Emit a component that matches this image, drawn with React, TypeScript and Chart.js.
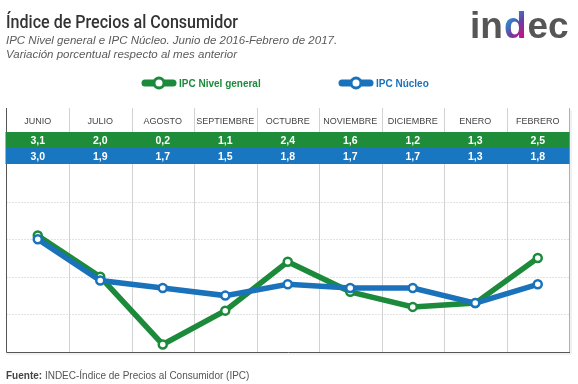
import React, { useEffect, useRef } from "react";
import { Chart, registerables } from "chart.js";

Chart.register(...registerables);

const months = ["JUNIO", "JULIO", "AGOSTO", "SEPTIEMBRE", "OCTUBRE", "NOVIEMBRE", "DICIEMBRE", "ENERO", "FEBRERO"];
const nivelGeneral = [3.1, 2.0, 0.2, 1.1, 2.4, 1.6, 1.2, 1.3, 2.5];
const nucleo = [3.0, 1.9, 1.7, 1.5, 1.8, 1.7, 1.7, 1.3, 1.8];
const gridValues = [1, 2, 3, 4];

const GREEN = "#1b8a3a";
const BLUE = "#1a72bb";
const GREEN_BAND = "#1e8c38";
const BLUE_BAND = "#1976c0";
const FONT = "'Liberation Sans', Arial, sans-serif";

const fmt = (v: number) => v.toFixed(1).replace(".", ",");

const decor = {
  id: "decor",
  beforeDraw(chart: any) {
    const ctx = chart.ctx;
    ctx.save();
    ctx.fillStyle = "#fff";
    ctx.fillRect(0, 0, chart.width, chart.height);
    ctx.restore();
  },
  beforeDatasetsDraw(chart: any) {
    const ctx = chart.ctx;
    const { left, right, bottom } = chart.chartArea;
    const xs = chart.scales.x;
    const ys = chart.scales.y;
    const colW = (right - left) / months.length;
    ctx.save();
    ctx.strokeStyle = "#d2d2d2";
    ctx.lineWidth = 1;
    for (let i = 1; i < months.length; i++) {
      const x = Math.round(xs.getPixelForValue(i) - colW / 2) + 0.5;
      ctx.beginPath();
      ctx.moveTo(x, 108);
      ctx.lineTo(x, bottom);
      ctx.stroke();
    }
    ctx.strokeStyle = "#c4c4c4";
    ctx.setLineDash([1, 2]);
    for (const v of gridValues) {
      const y = Math.round(ys.getPixelForValue(v)) + 0.5;
      ctx.beginPath();
      ctx.moveTo(left, y);
      ctx.lineTo(right, y);
      ctx.stroke();
    }
    ctx.setLineDash([]);
    ctx.strokeStyle = "#e4e4e4";
    ctx.beginPath();
    ctx.moveTo(left, bottom + 2);
    ctx.lineTo(right + 2, bottom + 2);
    ctx.lineTo(right + 2, 110);
    ctx.stroke();
    ctx.strokeStyle = "#b0b0b0";
    ctx.beginPath();
    ctx.moveTo(Math.round(right) + 0.5, 108);
    ctx.lineTo(Math.round(right) + 0.5, bottom);
    ctx.stroke();
    ctx.strokeStyle = "#555";
    ctx.beginPath();
    ctx.moveTo(Math.round(left) - 0.5, 108);
    ctx.lineTo(Math.round(left) - 0.5, bottom + 0.5);
    ctx.lineTo(right + 1, bottom + 0.5);
    ctx.stroke();
    ctx.restore();
  },
  afterDraw(chart: any) {
    const ctx = chart.ctx;
    const { left, right } = chart.chartArea;
    const xs = chart.scales.x;
    ctx.save();
    ctx.fillStyle = GREEN_BAND;
    ctx.fillRect(left - 1, 132, right - left + 1.5, 15);
    ctx.fillStyle = BLUE_BAND;
    ctx.fillRect(left - 1, 147, right - left + 1.5, 17);
    ctx.textAlign = "center";
    ctx.textBaseline = "alphabetic";
    months.forEach((m, i) => {
      const x = xs.getPixelForValue(i);
      ctx.fillStyle = "#444";
      ctx.font = `9px ${FONT}`;
      ctx.fillText(m, x, 123.5);
      ctx.fillStyle = "#fff";
      ctx.font = `bold 10.5px ${FONT}`;
      ctx.fillText(fmt(nivelGeneral[i]), x, 143.5);
      ctx.fillText(fmt(nucleo[i]), x, 160);
    });

    ctx.textAlign = "left";
    ctx.fillStyle = "#333";
    ctx.font = `500 18px Roboto, ${FONT}`;
    ctx.fillText("Índice de Precios al Consumidor", 6, 28, 232);
    ctx.fillStyle = "#5a5a5a";
    ctx.font = `italic 11.5px ${FONT}`;
    ctx.fillText("IPC Nivel general e IPC Núcleo. Junio de 2016-Febrero de 2017.", 6, 44);
    ctx.fillText("Variación porcentual respecto al mes anterior", 6, 58);

    const legendItem = (x0: number, x1: number, color: string, label: string) => {
      ctx.strokeStyle = color;
      ctx.lineCap = "round";
      ctx.lineWidth = 7;
      ctx.beginPath();
      ctx.moveTo(x0, 83);
      ctx.lineTo(x1, 83);
      ctx.stroke();
      ctx.lineCap = "butt";
      ctx.fillStyle = "#fff";
      ctx.lineWidth = 3;
      ctx.beginPath();
      ctx.arc((x0 + x1) / 2, 83, 5, 0, Math.PI * 2);
      ctx.fill();
      ctx.stroke();
      ctx.fillStyle = color;
      ctx.font = `bold 10px ${FONT}`;
      ctx.fillText(label, x1 + 6, 86.5);
    };
    legendItem(145, 173, GREEN, "IPC Nivel general");
    legendItem(342, 370, BLUE, "IPC Núcleo");

    // logo
    ctx.font = `bold 37px ${FONT}`;
    ctx.fillStyle = "#565656";
    let lx = 470;
    ctx.fillText("in", lx, 38);
    lx += ctx.measureText("in").width + 1;
    const dW = ctx.measureText("d").width;
    const grad = ctx.createLinearGradient(lx, 20, lx + dW, 38);
    grad.addColorStop(0, "#19a3dd");
    grad.addColorStop(0.5, "#6b3fa0");
    grad.addColorStop(1, "#e6007e");
    ctx.fillStyle = grad;
    ctx.fillText("d", lx, 38);
    lx += dW + 1;
    ctx.fillStyle = "#565656";
    ctx.fillText("ec", lx, 38);

    ctx.font = `bold 10px ${FONT}`;
    ctx.fillStyle = "#444";
    ctx.fillText("Fuente:", 6, 379);
    const fw = ctx.measureText("Fuente:").width;
    ctx.font = `10px ${FONT}`;
    ctx.fillStyle = "#555";
    ctx.fillText(" INDEC-Índice de Precios al Consumidor (IPC)", 6 + fw, 379);
    ctx.restore();
  },
};

export default function App() {
  const ref = useRef<HTMLCanvasElement>(null);
  useEffect(() => {
    if (!ref.current) return;
    const chart = new Chart(ref.current, {
      type: "line",
      data: {
        labels: months,
        datasets: [
          {
            label: "IPC Núcleo",
            data: nucleo,
            borderColor: BLUE,
            backgroundColor: "#fff",
            pointBackgroundColor: "#fff",
            pointBorderColor: BLUE,
            borderWidth: 5.5,
            pointRadius: 4,
            pointBorderWidth: 2.5,
            tension: 0,
            clip: false as any,
          },
          {
            label: "IPC Nivel general",
            data: nivelGeneral,
            borderColor: GREEN,
            backgroundColor: "#fff",
            pointBackgroundColor: "#fff",
            pointBorderColor: GREEN,
            borderWidth: 5.5,
            pointRadius: 4,
            pointBorderWidth: 2.5,
            tension: 0,
            clip: false as any,
          },
        ],
      },
      options: {
        responsive: false,
        animation: false,
        layout: { padding: { left: 5, right: 9, top: 164, bottom: 32 } },
        plugins: { legend: { display: false }, tooltip: { enabled: false } },
        scales: {
          x: { display: false, offset: true },
          y: { display: false, min: 0, max: 5 },
        },
      },
      plugins: [decor],
    });
    return () => chart.destroy();
  }, []);
  return (
    <div style={{ position: "absolute", left: 0, top: 0, width: 578, height: 384, background: "#fff" }}>
      <canvas ref={ref} width={578} height={384} style={{ display: "block" }} />
    </div>
  );
}
